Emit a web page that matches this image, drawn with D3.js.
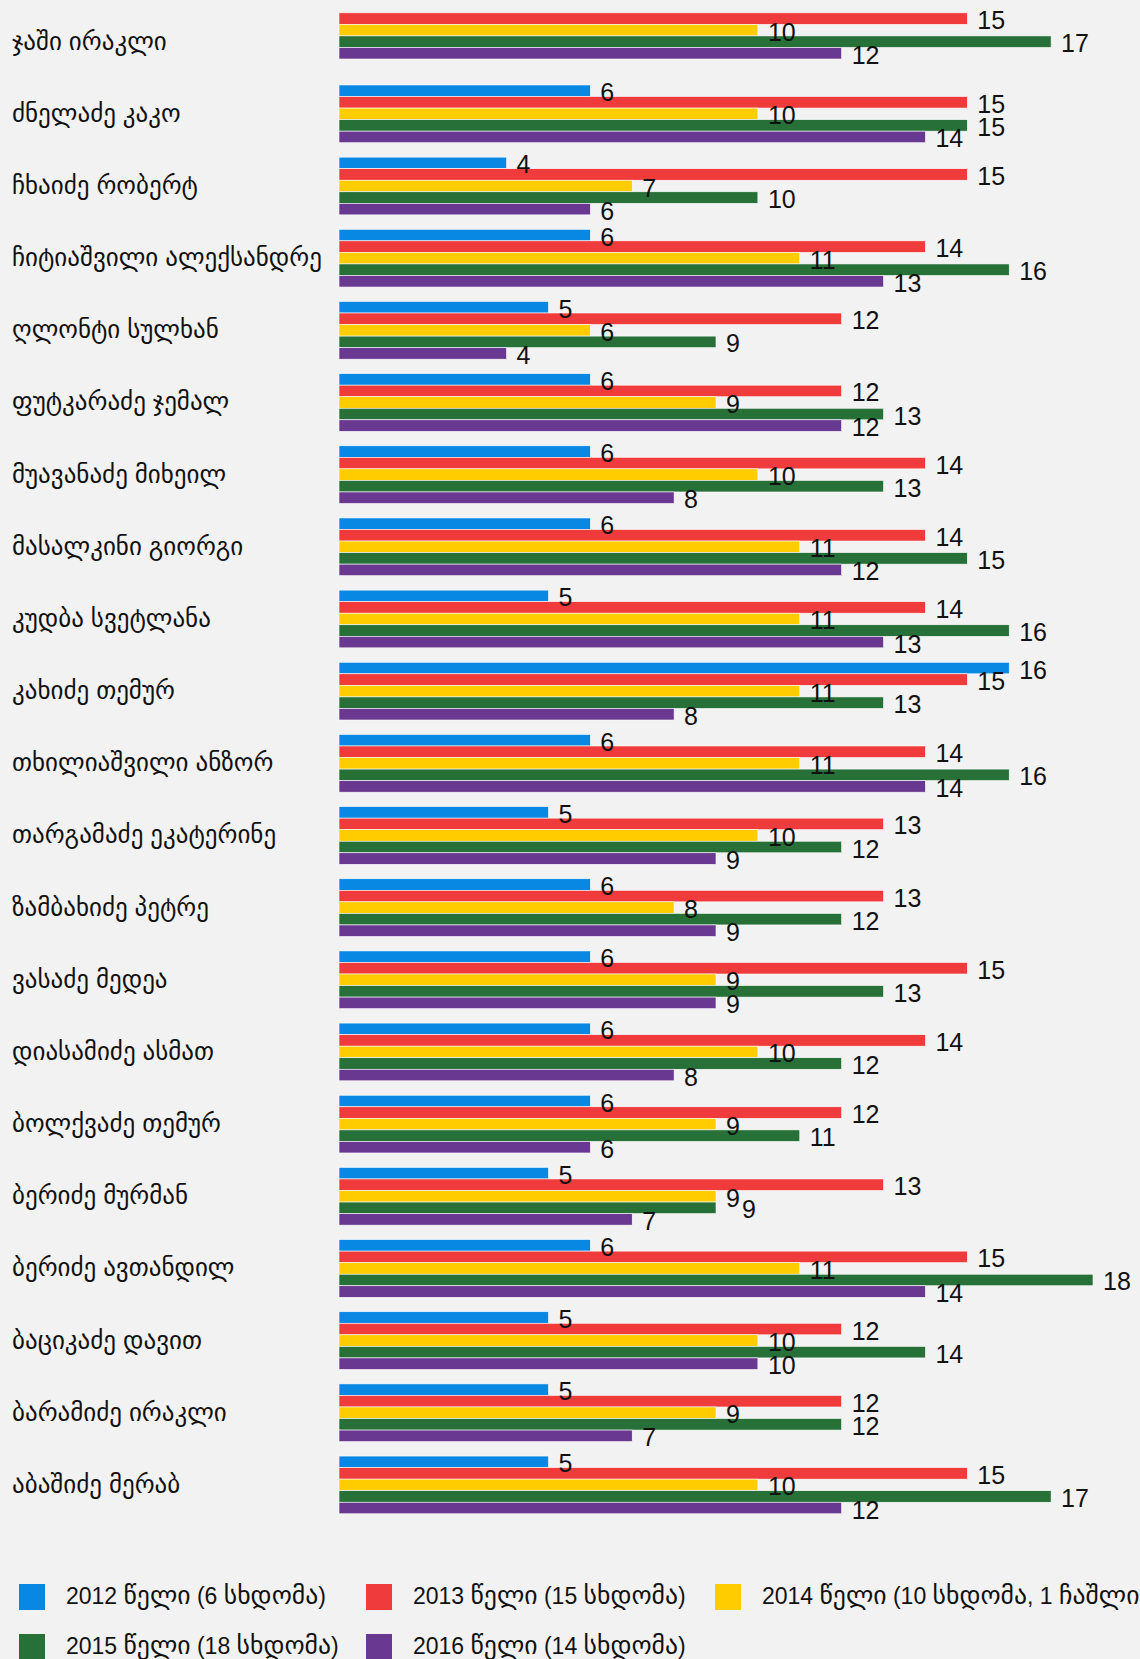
<!DOCTYPE html>
<html>
<head>
<meta charset="utf-8">
<script src="https://cdn.jsdelivr.net/npm/d3@7"></script>
<style>
  html, body { margin: 0; padding: 0; background: #f2f2f2; }
  svg { display: block; }
</style>
</head>
<body>
<div id="chart"></div>
<script>
// attendance per deputy, one value per year (null = no bar)
const names = [
  'ჯაში ირაკლი', 'ძნელაძე კაკო', 'ჩხაიძე რობერტ', 'ჩიტიაშვილი ალექსანდრე',
  'ღლონტი სულხან', 'ფუტკარაძე ჯემალ', 'მუავანაძე მიხეილ', 'მასალკინი გიორგი',
  'კუდბა სვეტლანა', 'კახიძე თემურ', 'თხილიაშვილი ანზორ', 'თარგამაძე ეკატერინე',
  'ზამბახიძე პეტრე', 'ვასაძე მედეა', 'დიასამიძე ასმათ', 'ბოლქვაძე თემურ',
  'ბერიძე მურმან', 'ბერიძე ავთანდილ', 'ბაციკაძე დავით', 'ბარამიძე ირაკლი',
  'აბაშიძე მერაბ'
];
const y2012 = [null, 6, 4, 6, 5, 6, 6, 6, 5, 16, 6, 5, 6, 6, 6, 6, 5, 6, 5, 5, 5];
const y2013 = [15, 15, 15, 14, 12, 12, 14, 14, 14, 15, 14, 13, 13, 15, 14, 12, 13, 15, 12, 12, 15];
const y2014 = [10, 10, 7, 11, 6, 9, 10, 11, 11, 11, 11, 10, 8, 9, 10, 9, 9, 11, 10, 9, 10];
const y2015 = [17, 15, 10, 16, 9, 13, 13, 15, 16, 13, 16, 12, 12, 13, 12, 11, 9, 18, 14, 12, 17];
const y2016 = [12, 14, 6, 13, 4, 12, 8, 12, 13, 8, 14, 9, 9, 9, 8, 6, 7, 14, 10, 7, 12];

const seriesNames = [
  '2012 წელი (6 სხდომა)', '2013 წელი (15 სხდომა)', '2014 წელი (10 სხდომა, 1 ჩაშლილი)',
  '2015 წელი (18 სხდომა)', '2016 წელი (14 სხდომა)'
];
const seriesColors = ['#0988e3', '#ef3b3b', '#ffcc00', '#277139', '#693891'];
const seriesValues = [y2012, y2013, y2014, y2015, y2016];

const W = 1140, H = 1659;
const FONT = '"Liberation Sans", Arial, "DejaVu Sans", sans-serif';

const svg = d3.select('#chart').append('svg')
  .attr('width', W).attr('height', H)
  .attr('viewBox', `0 0 ${W} ${H}`);

svg.append('rect').attr('width', W).attr('height', H).attr('fill', '#f2f2f2');

const x = d3.scaleLinear().domain([0, 18]).range([339, 1093]);
const y = d3.scaleBand().domain(names).range([5.6, 1521])
  .paddingInner(0.2).paddingOuter(0.1);
const slot = y.bandwidth() / seriesValues.length;

// category labels
svg.append('g').selectAll('text').data(names).join('text')
  .attr('x', 12)
  .attr('y', d => y(d) + y.bandwidth() / 2 + 8)
  .attr('font-family', FONT)
  .attr('font-size', 25)
  .attr('fill', '#111')
  .text(d => d);

const FS = 25;
const barG = svg.append('g');
const lblG = svg.append('g');
names.forEach((name, gi) => {
  // bars that exist are packed from the top of the band
  const present = seriesValues
    .map((vals, si) => ({ si, v: vals[gi] }))
    .filter(d => d.v != null);
  const placed = [];
  present.forEach((d, k) => {
    const y0 = y(name) + k * slot;
    barG.append('rect')
      .attr('x', x(0)).attr('y', y0)
      .attr('width', x(d.v) - x(0)).attr('height', slot)
      .attr('fill', seriesColors[d.si])
      .attr('stroke', '#fff').attr('stroke-width', 0.6);

    // nudge right when it would collide with a label already placed
    const w = String(d.v).length * FS * 0.556;
    const cy = y0 + slot / 2 + 1.5;
    let lx = x(d.v) + 10;
    placed.forEach(p => {
      if (Math.abs(p.cy - cy) < 16 && lx < p.x + p.w && lx + w > p.x) lx = p.x + p.w + 2;
    });
    placed.push({ x: lx, w, cy });
    lblG.append('text')
      .attr('x', lx).attr('y', cy)
      .attr('dominant-baseline', 'central')
      .attr('font-family', FONT)
      .attr('font-size', FS)
      .attr('fill', '#111')
      .text(d.v);
  });
});

// legend; Georgian runs set a touch larger, as the fallback font renders them
const legendPos = [[19, 1584], [366, 1584], [715, 1584], [19, 1634], [366, 1634]];
const lg = svg.append('g');
seriesNames.forEach((s, i) => {
  const [lx, ly] = legendPos[i];
  lg.append('rect').attr('x', lx).attr('y', ly).attr('width', 26).attr('height', 26)
    .attr('fill', seriesColors[i]);
  const t = lg.append('text')
    .attr('x', lx + 47).attr('y', ly + 20)
    .attr('font-family', FONT)
    .attr('font-size', 23)
    .attr('fill', '#111');
  s.split(/([\u10A0-\u10FF]+)/).filter(p => p.length).forEach(p => {
    t.append('tspan')
      .attr('font-size', /[\u10A0-\u10FF]/.test(p) ? 25.7 : 23)
      .text(p);
  });
});
</script>
</body>
</html>
